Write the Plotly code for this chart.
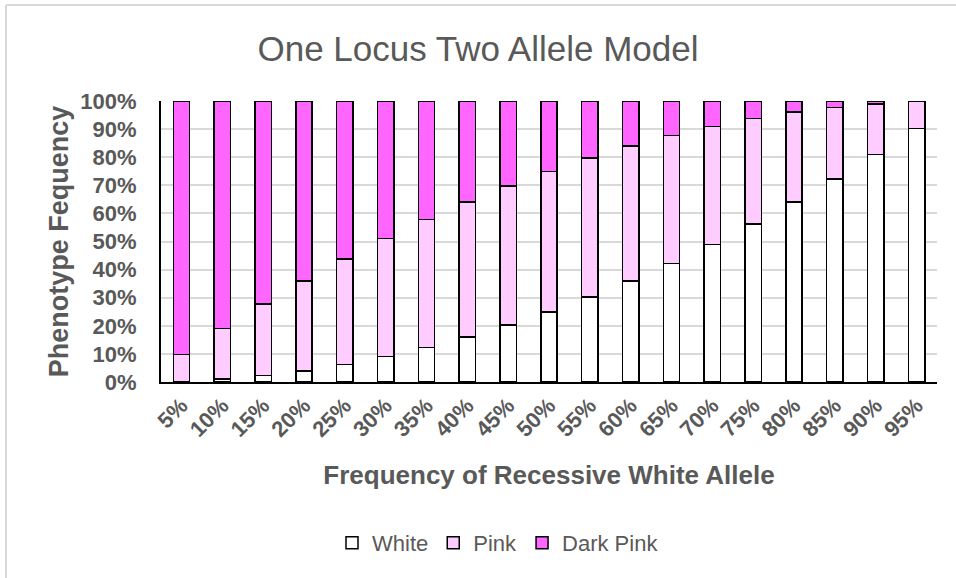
import plotly.graph_objects as go

# Recessive white allele frequency (category labels)
allele_freq = ["5%", "10%", "15%", "20%", "25%", "30%", "35%", "40%", "45%", "50%",
               "55%", "60%", "65%", "70%", "75%", "80%", "85%", "90%", "95%"]

# Phenotype frequencies for each allele frequency
white = [0.0025, 0.01, 0.0225, 0.04, 0.0625, 0.09, 0.1225, 0.16, 0.2025, 0.25,
         0.3025, 0.36, 0.4225, 0.49, 0.5625, 0.64, 0.7225, 0.81, 0.9025]
pink = [0.095, 0.18, 0.255, 0.32, 0.375, 0.42, 0.455, 0.48, 0.495, 0.5,
        0.495, 0.48, 0.455, 0.42, 0.375, 0.32, 0.255, 0.18, 0.095]
dark_pink = [0.9025, 0.81, 0.7225, 0.64, 0.5625, 0.49, 0.4225, 0.36, 0.3025, 0.25,
             0.2025, 0.16, 0.1225, 0.09, 0.0625, 0.04, 0.0225, 0.01, 0.0025]

W, H = 956, 578
L, R, T, B = 161, 19, 101, 196
TEXT = "#595959"
GRID = "#D9D9D9"

fig = go.Figure()
for name, vals, color in [("White", white, "#FFFFFF"),
                          ("Pink", pink, "#FFCCFF"),
                          ("Dark Pink", dark_pink, "#FF66FF")]:
    fig.add_trace(go.Bar(
        x=allele_freq, y=vals, name=name,
        marker=dict(color=color, line=dict(color="#000000", width=1.5)),
    ))

# light chart-area border (top and left edges)
pw, ph = W - L - R, H - T - B
def px_x(x):
    return (x - L) / pw
def px_y(y):
    return 1 - (y - T) / ph

fig.add_shape(type="line", xref="paper", yref="paper",
              x0=px_x(6), x1=px_x(W + 10), y0=px_y(5), y1=px_y(5),
              line=dict(color=GRID, width=2))
fig.add_shape(type="line", xref="paper", yref="paper",
              x0=px_x(6), x1=px_x(6), y0=px_y(5), y1=px_y(H + 10),
              line=dict(color=GRID, width=2))

fig.update_layout(
    width=W, height=H,
    margin=dict(l=L, r=R, t=T, b=B),
    barmode="stack",
    bargap=0.6,
    paper_bgcolor="white",
    plot_bgcolor="white",
    font=dict(family="Liberation Sans, Arial, sans-serif", color=TEXT),
    title=dict(text="One Locus Two Allele Model",
               font=dict(size=35, color=TEXT),
               x=478 / W, xanchor="center", xref="container",
               y=1 - 49 / H, yanchor="middle", yref="container"),
    legend=dict(orientation="h", x=px_x(498), xanchor="center",
                y=px_y(543), yanchor="middle",
                font=dict(size=22, color=TEXT),
                traceorder="normal", itemwidth=30),
    xaxis=dict(
        title=dict(text="<b>Frequency of Recessive White Allele</b>",
                   font=dict(size=26, color=TEXT), standoff=25),
        tickangle=-45,
        tickfont=dict(size=22, color=TEXT, weight="bold"),
        showline=True, linecolor="#000000", linewidth=2,
        showgrid=False, ticks="",
    ),
    yaxis=dict(
        title=dict(text="<b>Phenotype Fequency</b>",
                   font=dict(size=27, color=TEXT), standoff=4),
        range=[0, 1], dtick=0.1, tickformat=".0%",
        tickfont=dict(size=22, color=TEXT, weight="bold"),
        showline=True, linecolor="#000000", linewidth=2,
        showgrid=True, gridcolor=GRID, gridwidth=1.5,
        zeroline=False, ticks="", ticklabelstandoff=18,
    ),
)

fig.write_html("out.html")
